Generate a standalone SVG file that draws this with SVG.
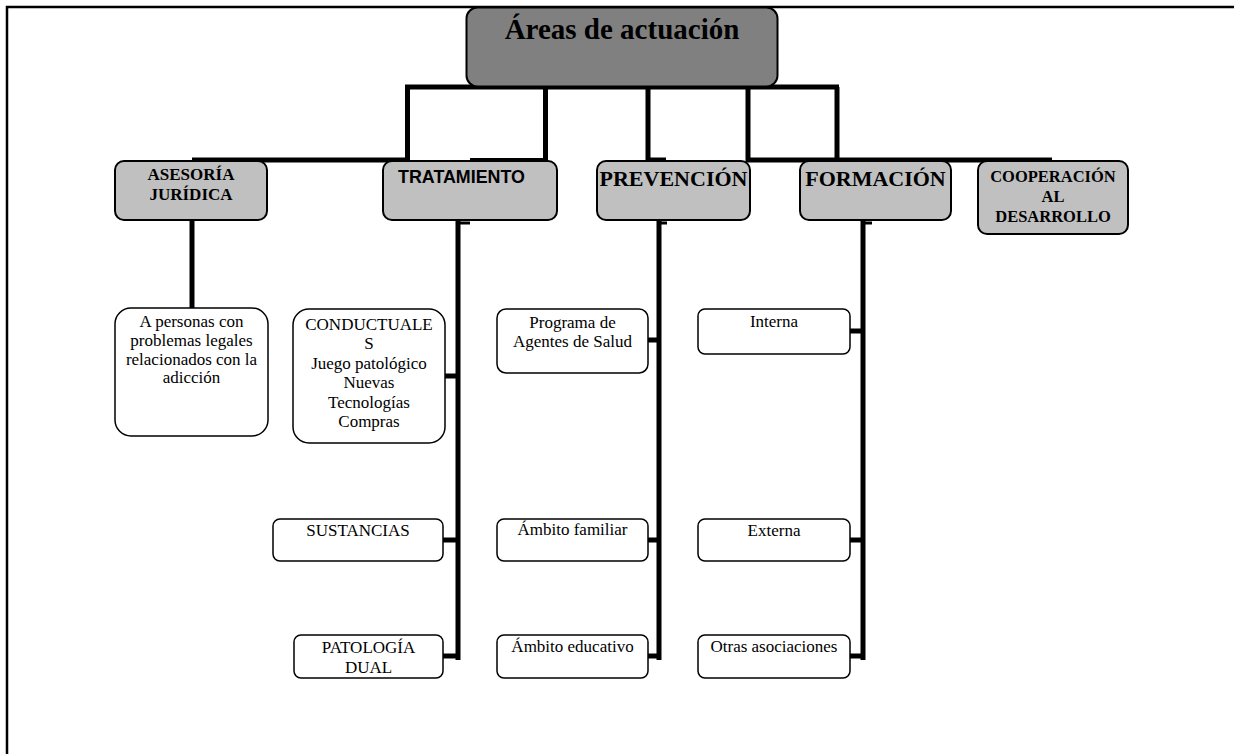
<svg xmlns="http://www.w3.org/2000/svg" width="1234" height="754" viewBox="0 0 1234 754">
<style>
.frame{fill:none;stroke:#000;stroke-width:2.5}
.c{fill:none;stroke:#000;stroke-width:5;stroke-linecap:butt}
.ct{fill:none;stroke:#000;stroke-width:3}
.root{fill:#808080;stroke:#000;stroke-width:2}
.l1{fill:#c0c0c0;stroke:#000;stroke-width:2}
.l2{fill:#fff;stroke:#000;stroke-width:1.5}
.tb{font-family:"Liberation Serif","Times New Roman",serif;font-weight:bold;text-anchor:middle;fill:#000}
.ts{font-family:"Liberation Sans",Arial,sans-serif;font-weight:bold;text-anchor:middle;fill:#000}
.t{font-family:"Liberation Serif","Times New Roman",serif;font-size:17px;text-anchor:middle;fill:#000}
</style>
<rect width="1234" height="754" fill="#fff"/>
<path class="frame" d="M7,754 V7 H1234"/>
<g id="connectors">
  <path class="c" d="M405,87 H839"/>
  <path class="c" d="M407.5,87 V160 M192,160 H410"/>
  <path class="c" d="M545.5,87 V160"/>
  <path class="ct" d="M470,159.5 H548"/>
  <path class="c" d="M648,87 V160 M645.5,160 H666"/>
  <path class="c" d="M748,87 V160 M745.5,160 H1052"/>
  <path class="c" d="M837,87 V160"/>
  <path class="c" d="M192,220 V308"/>
  <path class="c" d="M458,221 V660 M445,376 H458 M443,540 H458 M443,656 H458"/>
  <path class="ct" d="M458,223 H470"/>
  <path class="c" d="M659,221 V660 M648,340 H659 M648,540 H659 M648,656 H659"/>
  <path class="ct" d="M659,223 H667"/>
  <path class="c" d="M863,221 V660 M850,331 H863 M850,540 H863 M850,656 H863"/>
  <path class="ct" d="M863,223 H872"/>
</g>
<g id="root">
  <rect class="root" x="466.5" y="7.5" width="311" height="79" rx="11"/>
  <text class="tb" x="622" y="39" font-size="29">Áreas de actuación</text>
</g>
<g id="asesoria">
  <rect class="l1" x="115" y="161" width="152" height="59" rx="9"/>
  <text class="tb" x="191" y="180" font-size="17">ASESORÍA</text>
  <text class="tb" x="191" y="200" font-size="17">JURÍDICA</text>
</g>
<g id="tratamiento">
  <rect class="l1" x="383" y="161" width="174" height="59" rx="9"/>
  <text class="ts" x="461.5" y="183" font-size="18.5" textLength="127" lengthAdjust="spacingAndGlyphs">TRATAMIENTO</text>
</g>
<g id="prevencion">
  <rect class="l1" x="597" y="161" width="153" height="59" rx="9"/>
  <text class="tb" x="673.5" y="186" font-size="22">PREVENCIÓN</text>
</g>
<g id="formacion">
  <rect class="l1" x="800" y="161" width="151" height="59" rx="9"/>
  <text class="tb" x="875.5" y="186" font-size="22">FORMACIÓN</text>
</g>
<g id="cooperacion">
  <rect class="l1" x="978" y="161" width="150" height="73" rx="9"/>
  <text class="tb" x="1053" y="182" font-size="16.5">COOPERACIÓN</text>
  <text class="tb" x="1053" y="202" font-size="16.5">AL</text>
  <text class="tb" x="1053" y="222" font-size="16.5">DESARROLLO</text>
</g>
<g id="personas">
  <rect class="l2" x="115" y="308" width="153" height="128" rx="16"/>
  <text class="t" x="191.5" y="327">A personas con</text>
  <text class="t" x="191.5" y="345.8">problemas legales</text>
  <text class="t" x="191.5" y="364.6">relacionados con la</text>
  <text class="t" x="191.5" y="383.4">adicción</text>
</g>
<g id="conductuales">
  <rect class="l2" x="293" y="309" width="152" height="134" rx="16"/>
  <text class="t" x="369" y="330">CONDUCTUALE</text>
  <text class="t" x="369" y="349.4">S</text>
  <text class="t" x="369" y="368.8">Juego patológico</text>
  <text class="t" x="369" y="388.2">Nuevas</text>
  <text class="t" x="369" y="407.6">Tecnologías</text>
  <text class="t" x="369" y="427">Compras</text>
</g>
<g id="sustancias">
  <rect class="l2" x="273" y="519" width="170" height="42" rx="7"/>
  <text class="t" x="358" y="536">SUSTANCIAS</text>
</g>
<g id="patologia">
  <rect class="l2" x="294" y="635" width="149" height="43" rx="7"/>
  <text class="t" x="368.5" y="653">PATOLOGÍA</text>
  <text class="t" x="368.5" y="673">DUAL</text>
</g>
<g id="programa">
  <rect class="l2" x="497" y="309" width="151" height="64" rx="9"/>
  <text class="t" x="572.5" y="328">Programa de</text>
  <text class="t" x="572.5" y="347">Agentes de Salud</text>
</g>
<g id="familiar">
  <rect class="l2" x="497" y="519" width="151" height="42" rx="7"/>
  <text class="t" x="572.5" y="535">Ámbito familiar</text>
</g>
<g id="educativo">
  <rect class="l2" x="497" y="635" width="151" height="43" rx="7"/>
  <text class="t" x="572.5" y="652">Ámbito educativo</text>
</g>
<g id="interna">
  <rect class="l2" x="698" y="309" width="152" height="45" rx="7"/>
  <text class="t" x="774" y="327">Interna</text>
</g>
<g id="externa">
  <rect class="l2" x="698" y="519" width="152" height="42" rx="7"/>
  <text class="t" x="774" y="536">Externa</text>
</g>
<g id="otras">
  <rect class="l2" x="698" y="635" width="152" height="43" rx="7"/>
  <text class="t" x="774" y="652">Otras asociaciones</text>
</g>
</svg>
